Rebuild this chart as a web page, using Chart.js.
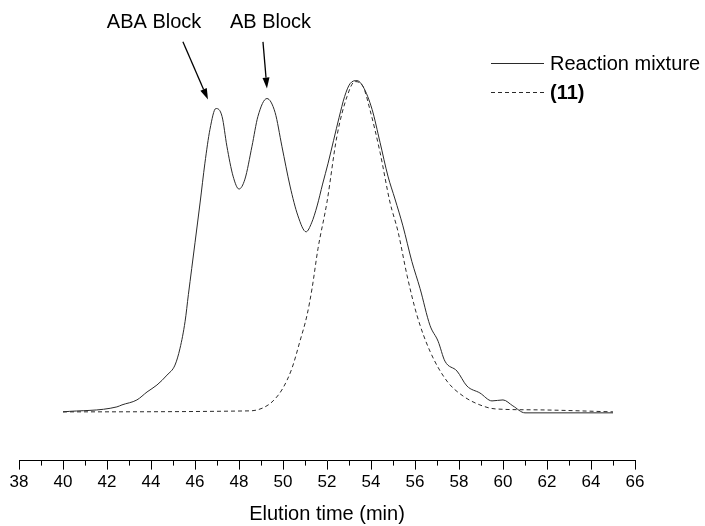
<!DOCTYPE html>
<html>
<head>
<meta charset="utf-8">
<script src="https://cdn.jsdelivr.net/npm/chart.js@4.4.1/dist/chart.umd.min.js"></script>
<style>
  body { margin: 0; background: #fff; }
  #wrap { width: 705px; height: 526px; }
</style>
</head>
<body>
<div id="wrap"><canvas id="gpcChart" width="705" height="526"></canvas></div>
<script>
// Reaction mixture trace: elution time (min) and detector response
const mixTime = [40.0, 42.45, 42.68, 43.36, 43.82, 44.27, 44.73, 45.09, 45.32, 45.55, 45.7, 45.85,
  46.0, 46.23, 46.45, 46.68, 46.95, 47.23, 47.45, 47.73, 48.0, 48.27, 48.59, 48.86, 49.27, 49.64,
  49.95, 50.32, 50.68, 51.05, 51.3, 51.55, 51.8, 52.05, 52.3, 52.55, 52.8, 53.05, 53.36,
  53.64, 54.05, 54.41, 54.77, 55.09, 55.45, 55.86, 56.23, 56.68, 57.05, 57.36, 57.91, 58.36, 58.95,
  59.5, 60.0, 60.45, 61.0, 65.0];
const mixSignal = [0, 5, 7, 12, 20, 27, 37, 47, 64, 91, 118, 144,
  170, 210, 250, 284, 305, 297, 267, 237, 224, 234, 267, 297, 315, 301,
  267, 227, 197, 181, 190, 207, 229, 250, 273, 296, 317, 330, 333,
  327, 304, 271, 237, 214, 187, 151, 124, 87, 71, 51, 41, 26, 19,
  11, 12, 6, -1, -1];

// Compound (11) trace
const refTime = [40.0, 48.5, 49.09, 49.55, 50.0, 50.41, 50.77, 51.09, 51.32, 51.59, 52.0, 52.45,
  52.91, 53.27, 53.64, 53.95, 54.41, 54.86, 55.23, 55.64, 56.09, 56.68, 57.45, 58.18, 58.95,
  59.64, 61.59, 65.0];
const refSignal = [0, 1, 4, 11, 24, 44, 71, 97, 124, 164, 211, 277,
  317, 332, 327, 304, 261, 211, 181, 137, 97, 61, 31, 16, 7,
  3, 2, 0];

const seriesNames = ['Reaction mixture', '(11)'];
const xMin = 38, xMax = 66;

const FONT = '"Liberation Sans", Arial, Helvetica, sans-serif';

function toPoints(xs, ys) {
  return xs.map((t, i) => ({ x: t, y: ys[i] }));
}

function drawArrow(ctx, x1, y1, x2, y2) {
  const ang = Math.atan2(y2 - y1, x2 - x1);
  const len = 11, half = 3.5;
  const bx = x2 - Math.cos(ang) * len, by = y2 - Math.sin(ang) * len;
  ctx.beginPath();
  ctx.moveTo(x1, y1);
  ctx.lineTo(bx, by);
  ctx.stroke();
  ctx.beginPath();
  ctx.moveTo(x2, y2);
  ctx.lineTo(bx - Math.sin(ang) * half, by + Math.cos(ang) * half);
  ctx.lineTo(bx + Math.sin(ang) * half, by - Math.cos(ang) * half);
  ctx.closePath();
  ctx.fill();
}

// peak callouts, placed in data units
const callouts = [
  { text: 'ABA Block', textX: 44.14, textY: 391, tailX: 45.45, tailY: 372, tipX: 46.59, tipY: 314 },
  { text: 'AB Block', textX: 49.43, textY: 391, tailX: 49.09, tailY: 372, tipX: 49.27, tipY: 325 }
];

const extras = {
  id: 'extras',
  afterDraw(chart) {
    const { ctx, scales: { x, y } } = chart;
    ctx.save();
    ctx.strokeStyle = '#000';
    ctx.fillStyle = '#000';
    ctx.lineWidth = 1;

    // minor ticks on odd minutes
    for (let v = xMin + 1; v < xMax; v += 2) {
      const px = Math.round(x.getPixelForValue(v)) + 0.5;
      ctx.beginPath();
      ctx.moveTo(px, x.top);
      ctx.lineTo(px, x.top + 5);
      ctx.stroke();
    }

    // callouts
    ctx.font = '20px ' + FONT;
    ctx.textAlign = 'center';
    ctx.textBaseline = 'middle';
    ctx.lineWidth = 1.3;
    callouts.forEach(c => {
      ctx.fillText(c.text, x.getPixelForValue(c.textX), y.getPixelForValue(c.textY));
      drawArrow(ctx, x.getPixelForValue(c.tailX), y.getPixelForValue(c.tailY),
        x.getPixelForValue(c.tipX), y.getPixelForValue(c.tipY));
    });

    // legend
    const lx = 491, lw = 53, tx = 550;
    const rows = [63, 92];
    ctx.lineWidth = 1;
    ctx.textAlign = 'left';
    chart.data.datasets.forEach((ds, i) => {
      ctx.strokeStyle = ds.borderColor;
      ctx.setLineDash(ds.borderDash || []);
      ctx.beginPath();
      ctx.moveTo(lx, rows[i] + 0.5);
      ctx.lineTo(lx + lw, rows[i] + 0.5);
      ctx.stroke();
      ctx.setLineDash([]);
      ctx.font = (i === 1 ? 'bold ' : '') + '20px ' + FONT;
      ctx.fillText(seriesNames[i], tx, rows[i] + 1);
    });
    ctx.restore();
  }
};

new Chart(document.getElementById('gpcChart'), {
  type: 'line',
  data: {
    datasets: [
      {
        label: seriesNames[0],
        data: toPoints(mixTime, mixSignal),
        borderColor: '#2a2a2a',
        borderWidth: 1,
        pointRadius: 0,
        cubicInterpolationMode: 'monotone',
        fill: false
      },
      {
        label: seriesNames[1],
        data: toPoints(refTime, refSignal),
        borderColor: '#2a2a2a',
        borderWidth: 1,
        borderDash: [4, 3],
        pointRadius: 0,
        cubicInterpolationMode: 'monotone',
        fill: false
      }
    ]
  },
  options: {
    responsive: false,
    animation: false,
    devicePixelRatio: 1,
    layout: { padding: { left: 19, right: 70, top: 10, bottom: 0 } },
    plugins: { legend: { display: false }, tooltip: { enabled: false } },
    scales: {
      x: {
        type: 'linear',
        min: xMin,
        max: xMax,
        border: { display: true, color: '#000', width: 1 },
        grid: { drawOnChartArea: false, drawTicks: true, tickLength: 9, tickColor: '#000', tickWidth: 1 },
        ticks: { stepSize: 2, color: '#000', padding: 3, font: { family: FONT, size: 17 }, maxRotation: 0 },
        title: { display: true, text: 'Elution time (min)', color: '#000', padding: { top: 6, bottom: 0 }, font: { family: FONT, size: 20 } }
      },
      y: {
        display: false,
        min: -49,
        max: 404
      }
    }
  },
  plugins: [extras]
});
</script>
</body>
</html>
